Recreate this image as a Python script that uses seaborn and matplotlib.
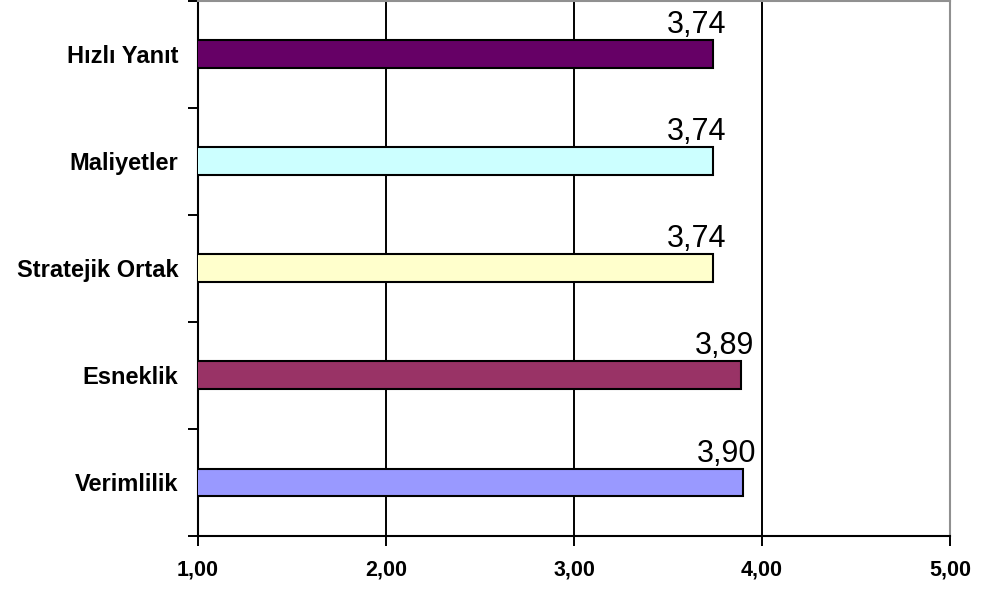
import matplotlib
matplotlib.use("Agg")
import matplotlib.pyplot as plt
import seaborn as sns
import pandas as pd

categories = ["Hızlı Yanıt", "Maliyetler", "Stratejik Ortak", "Esneklik", "Verimlilik"]
values = [3.74, 3.74, 3.74, 3.89, 3.90]
value_labels = ["3,74", "3,74", "3,74", "3,89", "3,90"]
bar_colors = ["#660066", "#CCFFFF", "#FFFFCC", "#993366", "#9999FF"]
x_ticks = [1, 2, 3, 4, 5]
x_tick_labels = ["1,00", "2,00", "3,00", "4,00", "5,00"]

sns.set_style("white")
plt.rcParams["font.family"] = ["Liberation Sans", "DejaVu Sans"]
plt.rcParams["text.color"] = "black"
plt.rcParams["xtick.color"] = "black"
plt.rcParams["ytick.color"] = "black"

df = pd.DataFrame({"kategori": categories, "deger": values})

fig = plt.figure(figsize=(9.81, 5.89), dpi=100)
ax = fig.add_axes([198 / 981, 1 - 536 / 589, (950 - 198) / 981, 536 / 589 - 0.001])

sns.barplot(data=df, x="deger", y="kategori", hue="kategori", order=categories,
            hue_order=categories, palette=bar_colors, saturation=1, orient="h",
            width=0.26, edgecolor="black", linewidth=1.5, legend=False, ax=ax, zorder=3)

ax.set_xlim(1, 5)
ax.set_ylim(len(categories) - 0.5, -0.5)

# vertical gridlines at inner x ticks
for xv in x_ticks[1:-1]:
    ax.axvline(xv, color="black", lw=1.4, zorder=1)

ax.set_xticks(x_ticks)
ax.set_xticklabels(x_tick_labels, fontsize=15.5, fontweight="bold")
ax.tick_params(axis="x", direction="out", length=7, width=1.4, colors="black", pad=10,
               bottom=True)

# tick marks at category boundaries, labels at category centres
ax.set_yticks([i - 0.5 for i in range(len(categories) + 1)])
ax.set_yticklabels([])
ax.tick_params(axis="y", which="major", direction="out", length=7, width=1.4,
               colors="black", left=True)
ax.set_yticks(range(len(categories)), minor=True)
ax.set_yticklabels(categories, minor=True, fontsize=17, fontweight="bold")
ax.tick_params(axis="y", which="minor", length=0, pad=14, colors="black")

ax.set_xlabel("")
ax.set_ylabel("")

for side in ["left", "bottom"]:
    ax.spines[side].set_color("black")
    ax.spines[side].set_linewidth(1.5)
for side in ["top", "right"]:
    ax.spines[side].set_visible(True)
    ax.spines[side].set_color("#909090")
    ax.spines[side].set_linewidth(1.5)

for i, (v, lab) in enumerate(zip(values, value_labels)):
    ax.text(v - 0.09, i - 0.13, lab, ha="center", va="bottom", fontsize=22, color="black")

fig.savefig("out.png", dpi=100)
